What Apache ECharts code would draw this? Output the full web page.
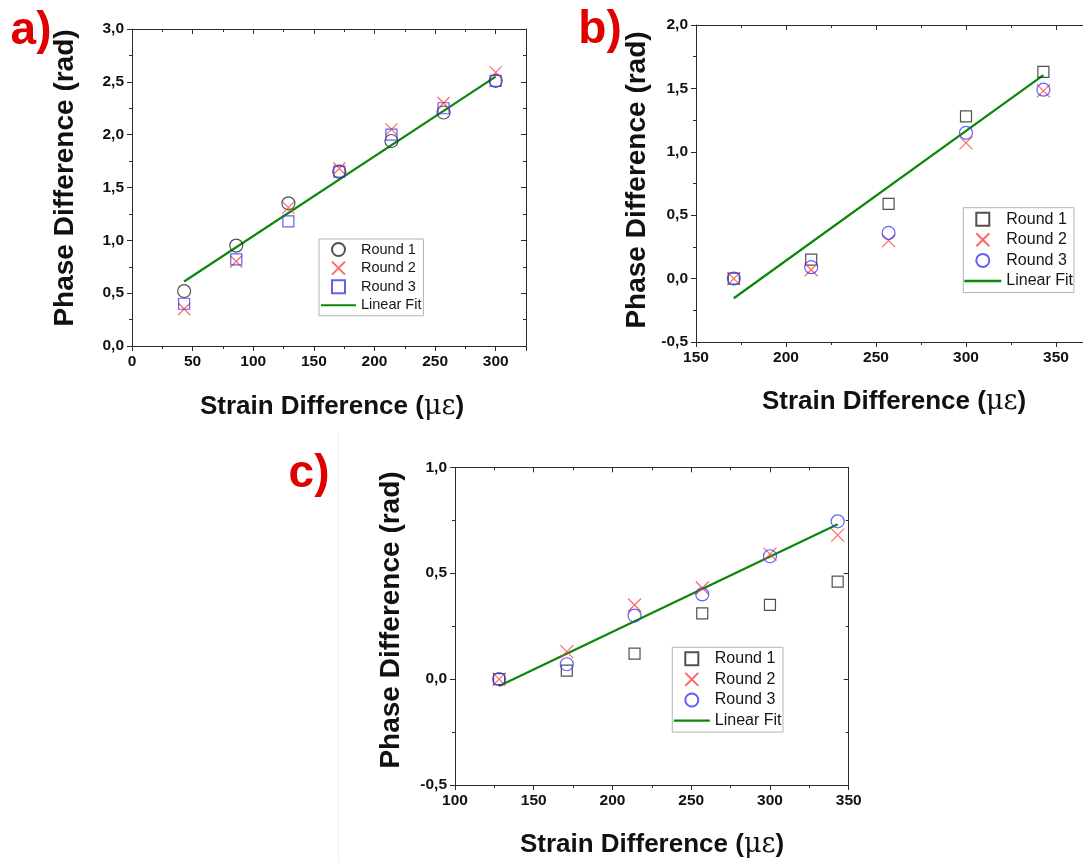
<!DOCTYPE html>
<html>
<head>
<meta charset="utf-8">
<script src="https://cdn.jsdelivr.net/npm/echarts@6/dist/echarts.min.js"></script>
<style>
  html, body { margin: 0; padding: 0; background: #fff; width: 1083px; height: 862px; overflow: hidden; }
  .panel { position: absolute; }
</style>
</head>
<body>
<div id="pa" class="panel" style="left:0;top:0;width:560px;height:430px"></div>
<div id="pb" class="panel" style="left:560px;top:0;width:523px;height:430px"></div>
<div id="pc" class="panel" style="left:280px;top:430px;width:600px;height:432px"></div>
<script>
// ---------- measurements ----------
const legendNames = ['Round 1', 'Round 2', 'Round 3', 'Linear Fit'];

// panel a
const strainA   = [43, 86, 129, 171, 214, 257, 300];
const round1A   = [0.52, 0.95, 1.35, 1.65, 1.94, 2.21, 2.51];
const round2A   = [0.35, 0.80, 1.31, 1.68, 2.05, 2.30, 2.59];
const round3A   = [0.40, 0.82, 1.18, 1.65, 2.00, 2.25, 2.51];
const fitStrainA = [43, 300];
const fitPhaseA  = [0.61, 2.55];

// panel b
const strainB   = [171, 214, 257, 300, 343];
const round1B   = [0.00, 0.15, 0.59, 1.28, 1.63];
const round2B   = [0.00, 0.07, 0.30, 1.07, 1.48];
const round3B   = [0.00, 0.09, 0.36, 1.15, 1.49];
const fitStrainB = [171, 343];
const fitPhaseB  = [-0.155, 1.605];

// panel c
const strainC   = [128, 171, 214, 257, 300, 343];
const round1C   = [0.00, 0.04, 0.12, 0.31, 0.35, 0.46];
const round2C   = [0.00, 0.13, 0.35, 0.43, 0.59, 0.68];
const round3C   = [0.00, 0.07, 0.30, 0.40, 0.58, 0.745];
const fitStrainC = [128, 343];
const fitPhaseC  = [-0.033, 0.731];

// ---------- styling ----------
const FONT = '"Liberation Sans", Arial, Helvetica, sans-serif';
const C = { black: '#262626', red: '#ff4040', blue: '#3a3af2', green: '#0b870b', axis: '#2b2b2b', label: '#e00000' };
const SYM = {
  circle: 'circle',
  square: 'path://M0,0H10V10H0Z',
  cross: 'path://M0,0L10,10M10,0L0,10',
  fitLine: 'path://M0,0H36V2.2H0Z'
};

const pairs = (xs, ys) => xs.map((x, i) => [x, ys[i]]);
const decComma = v => v.toFixed(1).replace('.', ',');
const intLabel = v => String(Math.round(v));

// Origin-style frame: minor ticks on the main axis, a second axis for the longer major ticks,
// and a mirrored pair on the opposite side with inward ticks.
function frame(dim, r, fmt) {
  const pos = dim === 'x' ? 'bottom' : 'left';
  const mirror = dim === 'x' ? 'top' : 'right';
  const isMajor = v => Math.abs((v - r.min) / r.major - Math.round((v - r.min) / r.major)) < 1e-6;
  const base = { type: 'value', min: r.min, max: r.max, splitLine: { show: false }, silent: true };
  const line = { show: true, onZero: false, lineStyle: { color: C.axis, width: 1 } };
  const noLine = { show: false, onZero: false };
  const tick = (len, inside) => ({ show: true, inside, length: len, lineStyle: { color: C.axis, width: 1 } });
  return [
    Object.assign({}, base, { position: pos, interval: r.minor, axisLine: line, axisTick: tick(3, false),
      axisLabel: { show: true, margin: 8, color: '#111', fontWeight: 'bold', fontSize: 15.5, fontFamily: FONT,
        formatter: v => (isMajor(v) ? fmt(v) : '') } }),
    Object.assign({}, base, { position: pos, interval: r.major, axisLine: noLine, axisTick: tick(5, false), axisLabel: { show: false } }),
    Object.assign({}, base, { position: mirror, interval: r.minor, axisLine: line, axisTick: tick(3, true), axisLabel: { show: false } }),
    Object.assign({}, base, { position: mirror, interval: r.major, axisLine: noLine, axisTick: tick(5, true), axisLabel: { show: false } })
  ];
}

function scatter(name, xs, ys, symbol, color, size) {
  return {
    type: 'scatter', name, data: pairs(xs, ys), symbol, symbolSize: size,
    xAxisIndex: 0, yAxisIndex: 0, z: 3,
    itemStyle: { color: 'transparent', borderColor: color, borderWidth: 1.2 },
    emphasis: { disabled: true }
  };
}

function fit(xs, ys) {
  return {
    type: 'line', name: 'Linear Fit', data: pairs(xs, ys), symbol: 'none',
    xAxisIndex: 0, yAxisIndex: 0, z: 2,
    lineStyle: { color: C.green, width: 2.2 }, itemStyle: { color: C.green },
    emphasis: { disabled: true }
  };
}

function texts(p) {
  const items = [
    { type: 'text', x: p.tag[0], y: p.tag[1],
      style: { text: p.tag[2], font: 'bold 46px ' + FONT, fill: C.label, textAlign: 'center', textVerticalAlign: 'middle' } },
    { type: 'text', x: p.yTitle[0], y: p.yTitle[1], rotation: Math.PI / 2,
      style: { text: 'Phase Difference (rad)', font: 'bold 28px ' + FONT, fill: '#111', textAlign: 'center', textVerticalAlign: 'middle' } },
    { type: 'text', x: p.xTitle[0], y: p.xTitle[1],
      style: {
        text: '{b|Strain Difference (}{g|με}{b|)}', textAlign: 'center', textVerticalAlign: 'middle',
        rich: {
          b: { font: 'bold 26px ' + FONT, fill: '#111' },
          g: { font: '27px "DejaVu Serif", serif', fill: '#111' }
        }
      } }
  ];
  return items.concat(p.extra || []);
}

function option(p) {
  return {
    animation: false,
    backgroundColor: 'transparent',
    grid: { left: p.grid[0], top: p.grid[1], width: p.grid[2], height: p.grid[3], containLabel: false, outerBoundsMode: 'none' },
    xAxis: frame('x', p.x, intLabel),
    yAxis: frame('y', p.y, decComma),
    legend: {
      data: legendNames.map(n => (n === 'Linear Fit' ? { name: n, icon: SYM.fitLine } : n)),
      orient: 'vertical', selectedMode: false, symbolKeepAspect: true,
      left: p.legend.left, top: p.legend.top, padding: p.legend.padding,
      itemWidth: p.legend.itemWidth, itemHeight: p.legend.itemHeight, itemGap: p.legend.itemGap,
      borderColor: '#b4b4b4', borderWidth: 1, backgroundColor: '#fff', borderRadius: 0,
      textStyle: { fontSize: p.legend.fontSize, color: '#161616', fontFamily: FONT }
    },
    series: p.series,
    graphic: texts(p)
  };
}

// ---------- panel a ----------
const panelA = {
  grid: [132, 29, 394, 317],
  x: { min: 0, max: 325, minor: 25, major: 50 },
  y: { min: 0, max: 3, minor: 0.25, major: 0.5 },
  legend: { left: 319, top: 239, padding: [3, 2, 3, 2], itemWidth: 35, itemHeight: 13, itemGap: 3.6, fontSize: 14.5 },
  series: [
    fit(fitStrainA, fitPhaseA),
    scatter('Round 1', strainA, round1A, SYM.circle, C.black, 13),
    scatter('Round 2', strainA, round2A, SYM.cross, C.red, 12),
    scatter('Round 3', strainA, round3A, SYM.square, C.blue, 11)
  ],
  tag: [31, 31, 'a)'],
  yTitle: [65, 178],
  xTitle: [332, 407]
};

// ---------- panel b ----------
const panelB = {
  grid: [136, 25, 405, 317],
  x: { min: 150, max: 375, minor: 25, major: 50 },
  y: { min: -0.5, max: 2, minor: 0.25, major: 0.5 },
  legend: { left: 403.3, top: 207.7, padding: [3.5, 1, 3.5, 1], itemWidth: 37, itemHeight: 13, itemGap: 4.6, fontSize: 16 },
  series: [
    fit(fitStrainB, fitPhaseB),
    scatter('Round 1', strainB, round1B, SYM.square, C.black, 11),
    scatter('Round 2', strainB, round2B, SYM.cross, C.red, 13),
    scatter('Round 3', strainB, round3B, SYM.circle, C.blue, 13)
  ],
  tag: [40, 30, 'b)'],
  yTitle: [77, 180],
  xTitle: [334, 402]
};

// ---------- panel c ----------
const panelC = {
  grid: [175, 37.3, 393.7, 317.7],
  x: { min: 100, max: 350, minor: 25, major: 50 },
  y: { min: -0.5, max: 1, minor: 0.25, major: 0.5 },
  legend: { left: 392.3, top: 217.3, padding: [3.5, 1.5, 3.5, 1.5], itemWidth: 36, itemHeight: 13, itemGap: 4.6, fontSize: 16 },
  series: [
    fit(fitStrainC, fitPhaseC),
    scatter('Round 1', strainC, round1C, SYM.square, C.black, 11),
    scatter('Round 2', strainC, round2C, SYM.cross, C.red, 13),
    scatter('Round 3', strainC, round3C, SYM.circle, C.blue, 13)
  ],
  tag: [29, 44, 'c)'],
  yTitle: [111, 190],
  xTitle: [372, 415],
  extra: [{ type: 'line', shape: { x1: 58.5, y1: 3, x2: 58.5, y2: 432 }, style: { stroke: '#eeeeee', lineWidth: 1 }, silent: true }]
};

[['pa', panelA], ['pb', panelB], ['pc', panelC]].forEach(([id, p]) => {
  const chart = echarts.init(document.getElementById(id), null, { renderer: 'canvas' });
  chart.setOption(option(p));
});
</script>
</body>
</html>
